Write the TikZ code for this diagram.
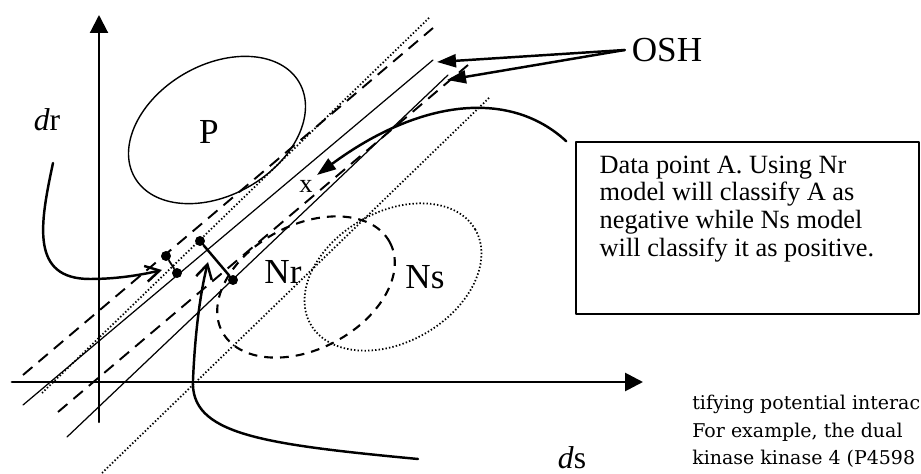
\documentclass[tikz,border=0pt]{standalone}
\usepackage{fontspec}
\setmainfont{Liberation Serif}
\newfontfamily\pagefont{DejaVu Serif}
\usetikzlibrary{arrows.meta, positioning}

\begin{document}
\begin{tikzpicture}[x=0.02cm, y=0.02cm, line cap=round, line join=round,
    axis/.style={line width=1.2pt, -{Triangle[length=0.36cm, width=0.36cm]}},
    plane/.style={line width=0.7pt},
    dashplane/.style={line width=1.1pt, line cap=butt, dash pattern=on 7pt off 4.5pt},
    dotplane/.style={line width=1pt, line cap=butt, dash pattern=on 0.8pt off 1.2pt},
    datapt/.style={circle, fill, inner sep=0pt, minimum size=0.2cm},
    lbl/.style={inner sep=1pt, font=\fontsize{20}{24}\selectfont},
    bent/.style={line width=1.4pt, -{Straight Barb[length=0.28cm, width=0.32cm]}},
    pointer/.style={line width=1.4pt, -{Triangle[length=0.38cm, width=0.26cm]}}]

  \useasboundingbox (0,0) rectangle (921,474);

  % ── axes ──────────────────────────────────────────────────────────────────

  \draw[axis] (99,52) -- (99,459);
  \draw[axis, line width=1.6pt] (12,92) -- (643,92);

  \node[lbl, font=\fontsize{18}{22}\selectfont] (dr) at (47,354) {\textit{d}r};
  \node[lbl, font=\fontsize{18}{22}\selectfont] (ds) at (572,16) {\textit{d}s};

  % ── class regions ─────────────────────────────────────────────────────────

  \draw[line width=0.8pt] (217,344) ellipse[x radius=95, y radius=65, rotate=30];
  \draw[line width=1.2pt, line cap=butt, dash pattern=on 5pt off 4pt]
    (306,187) ellipse[x radius=95, y radius=62, rotate=28];
  \draw[dotplane] (393,197) ellipse[x radius=95, y radius=65, rotate=30];

  \node[lbl] (P)  at (209,342) {P};
  \node[lbl] (Nr) at (283,202) {Nr};
  \node[lbl] (Ns) at (425,197) {Ns};

  % ── hyperplanes and margins ───────────────────────────────────────────────

  \coordinate (oshR) at (433,414);
  \coordinate (oshS) at (448,399);

  \draw[dotplane]  (42,81)  -- (430,457);
  \draw[dashplane] (23,99)  -- (433,446);
  \draw[plane]     (23,69)  -- (oshR);
  \draw[dashplane] (58,62)  -- (468,409);
  \draw[plane]     (67,37)  -- (oshS);
  \draw[dotplane]  (102,1)  -- (490,377);

  % ── data points and distances ─────────────────────────────────────────────

  \node[datapt] (ra) at (166,218) {};
  \node[datapt] (rb) at (177,201) {};
  \node[datapt] (sa) at (200,233) {};
  \node[datapt] (sb) at (233,194) {};

  \draw[line width=1pt]   (ra) -- (rb);
  \draw[line width=1.4pt] (sa) -- (sb);

  \node[inner sep=1pt, font=\fontsize{15}{18}\selectfont] (ptA) at (306,288) {x};

  % ── callouts ──────────────────────────────────────────────────────────────

  \coordinate (drtail) at (53,311);
  \coordinate (dstail) at (418,15);

  \draw[bent] (drtail) .. controls (40,250) and (30,195) .. (90,195)
    .. controls (120,195) and (145,200) .. ([shift={(-15,3)}]rb.center);
  \draw[bent] (dstail) .. controls (260,30) and (190,40) .. (193,94)
    .. controls (195,140) and (200,180) .. ([shift={(8,-21)}]sa.center);

  \node[lbl] (osh) at (667,424) {OSH};
  \draw[pointer] ([xshift=-0.1cm]osh.west) -- ([shift={(4,-2)}]oshR);
  \draw[pointer] ([xshift=-0.1cm]osh.west) -- ([shift={(-1,-5)}]oshS);

  % Note box
  \node[draw, line width=0.8pt, minimum width=6.86cm, minimum height=3.44cm]
    (note) at (747.5,246) {};
  \node[anchor=north west, inner sep=0pt, align=left,
        font=\fontsize{15}{15.8}\selectfont]
    (notetext) at ([shift={(24,-14)}]note.north west)
    {Data point A. Using Nr\\model will classify A as\\negative while Ns model\\will classify it as positive.};

  \draw[pointer] ([xshift=-0.18cm]note.north west)
    .. controls (510,385) and (420,375) .. ([shift={(11,11)}]ptA.center);

  % Page text beside the figure
  \node[anchor=north west, inner sep=0pt, align=left,
        font=\pagefont\fontsize{10.8}{15.6}\selectfont]
    (body) at (692,79)
    {tifying potential interac\\For example, the dual\\kinase kinase 4 (P4598};

\end{tikzpicture}
\end{document}
